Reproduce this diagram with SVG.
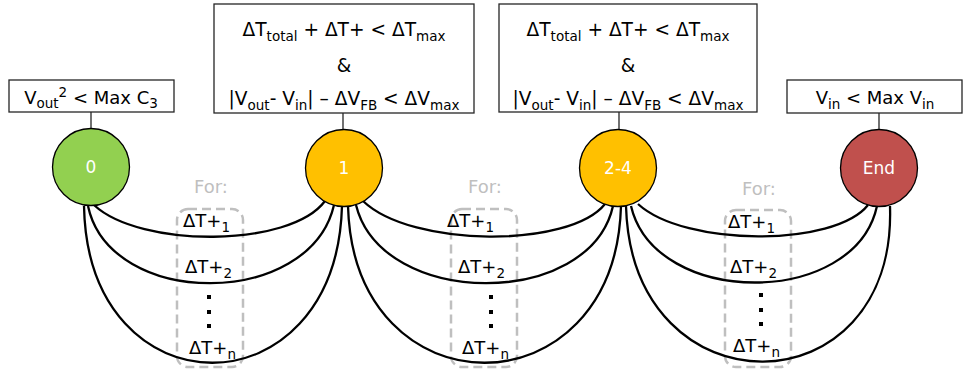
<svg xmlns="http://www.w3.org/2000/svg" width="964" height="375" viewBox="0 0 964 375">
<style>
.box{fill:#fff;stroke:#262626;stroke-width:1.3}
.stem{stroke:#262626;stroke-width:1.3}
.t{font-family:"DejaVu Sans","Liberation Sans",sans-serif;font-size:18px;fill:#000}
.b{font-size:18.6px}
.s{font-size:13.5px}
.ct{font-family:"DejaVu Sans","Liberation Sans",sans-serif;font-size:17px;fill:#fff;text-anchor:middle}
.for{font-family:"DejaVu Sans","Liberation Sans",sans-serif;font-size:18px;fill:#BFBFBF;text-anchor:middle}
.dash{fill:none;stroke:#BFBFBF;stroke-width:2.5;stroke-dasharray:9 5}
.c{fill:none;stroke:#000;stroke-width:2.3}
.node{stroke:#000;stroke-width:1.3}
.dot{fill:#000}
</style>

<g id="for-groups">
  <g id="for1">
    <rect class="dash" x="177" y="209" width="66" height="158" rx="11"/>
    <text class="for" x="211" y="193">For:</text>
  </g>
  <g id="for2">
    <rect class="dash" x="451" y="209" width="66" height="158" rx="11"/>
    <text class="for" x="485" y="193">For:</text>
  </g>
  <g id="for3">
    <rect class="dash" x="725" y="210" width="66" height="157" rx="11"/>
    <text class="for" x="759" y="195">For:</text>
  </g>
</g>

<g id="connectors">
  <path class="c" d="M94,205 C140,248 290,248 325,201"/>
  <path class="c" d="M88,206 C110,309 310,309 334,205"/>
  <path class="c" d="M84,206 C88,415 336,415 342,206"/>
  <path class="c" d="M363,201 C412,248 570,248 605,204"/>
  <path class="c" d="M356,205 C382,309 590,309 613,206"/>
  <path class="c" d="M348,206 C354,415 615,415 621,206"/>
  <path class="c" d="M638,204 C685,247 835,247 868,205"/>
  <path class="c" d="M631,206 C655,308 855,308 877,206"/>
  <path class="c" d="M626,206 C632,415 897,412 890,206"/>
</g>

<g id="labels">
  <text class="t" x="183" y="227">ΔT+<tspan class="s" dy="5">1</tspan></text>
  <text class="t" x="185" y="273">ΔT+<tspan class="s" dy="5">2</tspan></text>
  <rect class="dot" x="207" y="295" width="4" height="4"/>
  <rect class="dot" x="207" y="310" width="4" height="4"/>
  <rect class="dot" x="207" y="324" width="4" height="4"/>
  <text class="t" x="189" y="354">ΔT+<tspan class="s" dy="5">n</tspan></text>

  <text class="t" x="447" y="227">ΔT+<tspan class="s" dy="5">1</tspan></text>
  <text class="t" x="458" y="273">ΔT+<tspan class="s" dy="5">2</tspan></text>
  <rect class="dot" x="489" y="295" width="4" height="4"/>
  <rect class="dot" x="489" y="310" width="4" height="4"/>
  <rect class="dot" x="489" y="324" width="4" height="4"/>
  <text class="t" x="462" y="354">ΔT+<tspan class="s" dy="5">n</tspan></text>

  <text class="t" x="728" y="228">ΔT+<tspan class="s" dy="5">1</tspan></text>
  <text class="t" x="730" y="273">ΔT+<tspan class="s" dy="5">2</tspan></text>
  <rect class="dot" x="759" y="293" width="4" height="4"/>
  <rect class="dot" x="759" y="308" width="4" height="4"/>
  <rect class="dot" x="759" y="322" width="4" height="4"/>
  <text class="t" x="733" y="352">ΔT+<tspan class="s" dy="5">n</tspan></text>
</g>

<g id="node0">
  <rect class="box" x="9" y="80" width="165" height="32"/>
  <text class="t" x="91" y="104" text-anchor="middle">V<tspan class="s" dy="4">out</tspan><tspan class="s" dy="-11">2</tspan><tspan dy="7"> &lt; Max C</tspan><tspan class="s" dy="4">3</tspan></text>
  <line class="stem" x1="91" y1="112" x2="91" y2="129"/>
  <circle class="node" cx="91" cy="167" r="38.5" fill="#92D050"/>
  <text class="ct" x="91" y="173">0</text>
</g>

<g id="node1">
  <rect class="box" x="214" y="4" width="260" height="109"/>
  <text class="t b" x="344" y="36" text-anchor="middle">ΔT<tspan class="s" dy="5">total</tspan><tspan dy="-5"> + ΔT+ &lt; ΔT</tspan><tspan class="s" dy="5">max</tspan></text>
  <text class="t b" x="344" y="72" text-anchor="middle">&amp;</text>
  <text class="t b" x="344" y="105" text-anchor="middle">|V<tspan class="s" dy="5">out</tspan><tspan dy="-5">- V</tspan><tspan class="s" dy="5">in</tspan><tspan dy="-5">| – ΔV</tspan><tspan class="s" dy="5">FB</tspan><tspan dy="-5"> &lt; ΔV</tspan><tspan class="s" dy="5">max</tspan></text>
  <line class="stem" x1="343" y1="113" x2="343" y2="130"/>
  <circle class="node" cx="344" cy="168" r="38.5" fill="#FFC000"/>
  <text class="ct" x="344" y="174">1</text>
</g>

<g id="node2">
  <rect class="box" x="499" y="4" width="258" height="108"/>
  <text class="t b" x="628" y="36" text-anchor="middle">ΔT<tspan class="s" dy="5">total</tspan><tspan dy="-5"> + ΔT+ &lt; ΔT</tspan><tspan class="s" dy="5">max</tspan></text>
  <text class="t b" x="628" y="72" text-anchor="middle">&amp;</text>
  <text class="t b" x="628" y="105" text-anchor="middle">|V<tspan class="s" dy="5">out</tspan><tspan dy="-5">- V</tspan><tspan class="s" dy="5">in</tspan><tspan dy="-5">| – ΔV</tspan><tspan class="s" dy="5">FB</tspan><tspan dy="-5"> &lt; ΔV</tspan><tspan class="s" dy="5">max</tspan></text>
  <line class="stem" x1="619" y1="112" x2="619" y2="130"/>
  <circle class="node" cx="618" cy="168" r="38.5" fill="#FFC000"/>
  <text class="ct" x="618" y="174">2-4</text>
</g>

<g id="nodeEnd">
  <rect class="box" x="787" y="80" width="175" height="33"/>
  <text class="t" x="875" y="104" text-anchor="middle">V<tspan class="s" dy="5">in</tspan><tspan dy="-5"> &lt; Max V</tspan><tspan class="s" dy="5">in</tspan></text>
  <line class="stem" x1="879" y1="113" x2="879" y2="130"/>
  <circle class="node" cx="879" cy="168" r="38.5" fill="#C0504D"/>
  <text class="ct" x="879" y="174">End</text>
</g>
</svg>
